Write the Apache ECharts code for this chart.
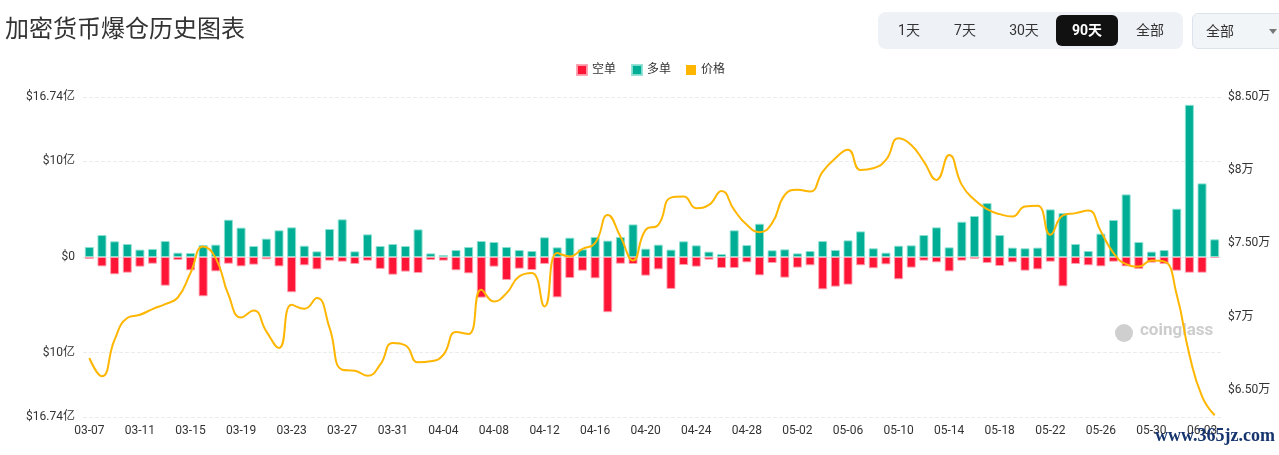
<!DOCTYPE html>
<html lang="zh-CN">
<head>
<meta charset="utf-8">
<title>加密货币爆仓历史图表</title>
<script src="https://cdn.jsdelivr.net/npm/echarts@6/dist/echarts.min.js"></script>
<style>
  html, body { margin: 0; padding: 0; background: #fff; }
  body { width: 1279px; height: 455px; position: relative; overflow: hidden;
         font-family: Roboto, "Noto Sans CJK SC", sans-serif; }
  #chart { position: absolute; left: 0; top: 0; width: 1279px; height: 455px; }
  .range { position: absolute; left: 878px; top: 12px; width: 305px; height: 37px;
           background: #eef1f5; border-radius: 8px; }
  .range span { position: absolute; top: 3px; height: 31px; line-height: 31px; width: 62px;
                text-align: center; font-size: 14px; color: #333; }
  .range span.on { background: #111; color: #fff; border-radius: 6px; font-weight: bold; }
  .select { position: absolute; left: 1192px; top: 13px; width: 110px; height: 34px;
            background: #f2f5f8; border: 1px solid #dce3eb; border-radius: 6px; }
  .select b { position: absolute; left: 13px; top: 0; line-height: 34px; font-size: 14px;
              font-weight: normal; color: #333; }
  .select i { position: absolute; left: 76px; top: 15px; width: 0; height: 0;
              border-left: 4px solid transparent; border-right: 4px solid transparent;
              border-top: 5px solid #777; }
  .site { position: absolute; left: 1155px; top: 425px; font-family: "Liberation Serif", serif;
          font-size: 18px; font-weight: bold; color: #16356f; }
</style>
</head>
<body>
<div id="chart"></div>
<div class="range">
  <span style="left:0">1天</span>
  <span style="left:56px">7天</span>
  <span style="left:115px">30天</span>
  <span class="on" style="left:178px">90天</span>
  <span style="left:241px">全部</span>
</div>
<div class="select"><b>全部</b><i></i></div>
<div class="site">www.365jz.com</div>
<script>
const dates = [
  '03-07','03-08','03-09','03-10','03-11','03-12','03-13','03-14','03-15','03-16',
  '03-17','03-18','03-19','03-20','03-21','03-22','03-23','03-24','03-25','03-26',
  '03-27','03-28','03-29','03-30','03-31','04-01','04-02','04-03','04-04','04-05',
  '04-06','04-07','04-08','04-09','04-10','04-11','04-12','04-13','04-14','04-15',
  '04-16','04-17','04-18','04-19','04-20','04-21','04-22','04-23','04-24','04-25',
  '04-26','04-27','04-28','04-29','04-30','05-01','05-02','05-03','05-04','05-05',
  '05-06','05-07','05-08','05-09','05-10','05-11','05-12','05-13','05-14','05-15',
  '05-16','05-17','05-18','05-19','05-20','05-21','05-22','05-23','05-24','05-25',
  '05-26','05-27','05-28','05-29','05-30','05-31','06-01','06-02','06-03','06-04'
];

// 多单爆仓 (亿美元)
const longs = [
  1.05, 2.3, 1.64, 1.36, 0.77, 0.84, 1.67, 0.45, 0.42, 1.25,
  1.29, 3.9, 3.07, 1.15, 1.92, 2.79, 3.1, 1.18, 0.59, 2.93,
  3.94, 0.59, 2.37, 1.15, 1.36, 1.15, 2.89, 0.38, 0.21, 0.73,
  1.05, 1.67, 1.57, 1.05, 0.73, 0.63, 2.06, 1.01, 2.02, 0.8,
  2.09, 1.71, 2.09, 3.41, 0.87, 1.29, 0.77, 1.64, 1.22, 0.56,
  0.31, 2.79, 1.25, 3.48, 0.7, 0.8, 0.38, 0.63, 1.67, 0.73,
  1.74, 2.68, 0.91, 0.45, 1.18, 1.22, 2.3, 3.1, 1.01, 3.69,
  4.29, 5.64, 2.3, 0.98, 0.91, 0.98, 4.98, 4.6, 1.36, 0.63,
  2.44, 3.87, 6.55, 1.57, 0.56, 0.73, 5.05, 15.92, 7.7, 1.85
];

// 空单爆仓 (亿美元)
const shorts = [
  0.21, 0.98, 1.81, 1.64, 1.01, 0.7, 3.0, 0.31, 1.39, 4.11,
  1.5, 0.7, 0.98, 0.8, 0.24, 0.98, 3.69, 0.87, 1.29, 0.38,
  0.49, 0.73, 0.38, 1.25, 1.85, 1.53, 1.67, 0.31, 0.38, 1.39,
  1.71, 4.25, 1.01, 2.4, 1.22, 1.36, 0.73, 4.22, 2.2, 1.43,
  2.23, 5.78, 0.7, 0.73, 1.95, 1.29, 3.34, 0.84, 1.01, 0.28,
  1.15, 1.15, 0.56, 1.92, 0.63, 2.16, 1.11, 0.87, 3.38, 3.1,
  2.89, 0.87, 1.18, 0.77, 2.33, 1.11, 0.38, 0.56, 1.5, 0.38,
  0.21, 0.63, 0.94, 0.56, 1.43, 1.29, 0.49, 3.07, 0.73, 0.87,
  0.98, 0.49, 0.98, 1.25, 0.59, 0.73, 1.43, 1.64, 1.64, 0.1
];

// BTC 价格 (美元)
const prices = [
  67180, 65930, 68430, 69910, 70130, 70520, 70860, 71310, 72980, 74790,
  74000, 71500, 69950, 70430, 69000, 67860, 70810, 70540, 71270, 69230,
  66380, 66310, 65970, 66720, 68200, 68040, 66880, 66950, 67400, 68950,
  68820, 71840, 71040, 71610, 72750, 72980, 70700, 74340, 74110, 74630,
  75020, 76950, 75470, 73840, 75930, 76270, 78130, 78200, 77410, 77630,
  78590, 77290, 76270, 75770, 76390, 78320, 78660, 78540, 79910, 80820,
  81390, 80020, 80140, 80700, 82180, 81730, 80590, 79340, 81040, 79000,
  77980, 77340, 77000, 76840, 77520, 77570, 75590, 76910, 77070, 77250,
  75820, 74340, 73590, 73430, 73840, 73770, 71500, 67400, 64560, 63270
];

// axis ticks
const leftTicks = [-16.74, -10, 0, 10, 16.74];
const priceTicks = [65000, 70000, 75000, 80000, 85000];
const priceMin = 63150;
const priceMax = 85000;

const chart = echarts.init(document.getElementById('chart'));
const font = 'Roboto, "Noto Sans CJK SC", sans-serif';

chart.setOption({
  animation: false,
  textStyle: { fontFamily: font },
  title: {
    text: '加密货币爆仓历史图表',
    left: 0,
    top: 11,
    textStyle: { fontSize: 24, fontWeight: 'normal', color: '#333', fontFamily: '"Noto Sans CJK SC", sans-serif' }
  },
  legend: {
    data: ['空单', '多单', '价格'],
    left: 571,
    top: 59,
    icon: 'rect',
    itemWidth: 10,
    itemHeight: 10,
    itemGap: 15,
    textStyle: { color: '#333', fontSize: 12 }
  },
  graphic: [
    {
      type: 'circle',
      shape: { cx: 1124, cy: 333, r: 9 },
      style: { fill: '#cfcfcf' }
    },
    {
      type: 'text',
      left: 1140,
      top: 322,
      style: { text: 'coinglass', fill: '#cdcdcd', fontSize: 17, fontWeight: 'bold', fontFamily: font }
    }
  ],
  grid: { left: 83, right: 58, top: 97, bottom: 38 },
  xAxis: {
    type: 'category',
    data: dates,
    boundaryGap: true,
    axisLine: { show: false },
    axisTick: { show: false },
    axisLabel: { interval: 3, color: '#333', fontSize: 12, margin: 8 }
  },
  yAxis: [
    {
      type: 'value',
      min: leftTicks[0],
      max: leftTicks[leftTicks.length - 1],
      axisLine: { show: false },
      axisTick: { show: false, customValues: leftTicks },
      axisLabel: {
        customValues: leftTicks,
        color: '#333',
        fontSize: 12,
        margin: 8,
        formatter: v => v === 0 ? '$0' : '$' + Math.abs(v) + '亿'
      },
      splitLine: { lineStyle: { color: '#ebebeb', type: 'dashed' } }
    },
    {
      type: 'value',
      min: priceMin,
      max: priceMax,
      position: 'right',
      axisLine: { show: false },
      axisTick: { show: false, customValues: priceTicks },
      splitLine: { show: false },
      axisLabel: {
        customValues: priceTicks,
        color: '#333',
        fontSize: 12,
        margin: 7,
        formatter: v => '$' + (v % 10000 === 0 ? v / 10000 : (v / 10000).toFixed(2)) + '万'
      }
    }
  ],
  series: [
    {
      name: '空单',
      type: 'bar',
      data: shorts.map(v => -v),
      barWidth: 9,
      barGap: '-100%',
      itemStyle: { color: '#ff1535', borderColor: 'rgba(255,160,175,0.9)', borderWidth: 1 }
    },
    {
      name: '多单',
      type: 'bar',
      data: longs,
      barWidth: 9,
      barGap: '-100%',
      itemStyle: { color: '#00ae95', borderColor: 'rgba(140,225,210,0.9)', borderWidth: 1 }
    },
    {
      name: '价格',
      type: 'line',
      yAxisIndex: 1,
      data: prices,
      smooth: true,
      showSymbol: false,
      symbol: 'none',
      lineStyle: { color: '#ffb600', width: 2 },
      itemStyle: { color: '#ffb600' },
      z: 5
    }
  ]
});
</script>
</body>
</html>
